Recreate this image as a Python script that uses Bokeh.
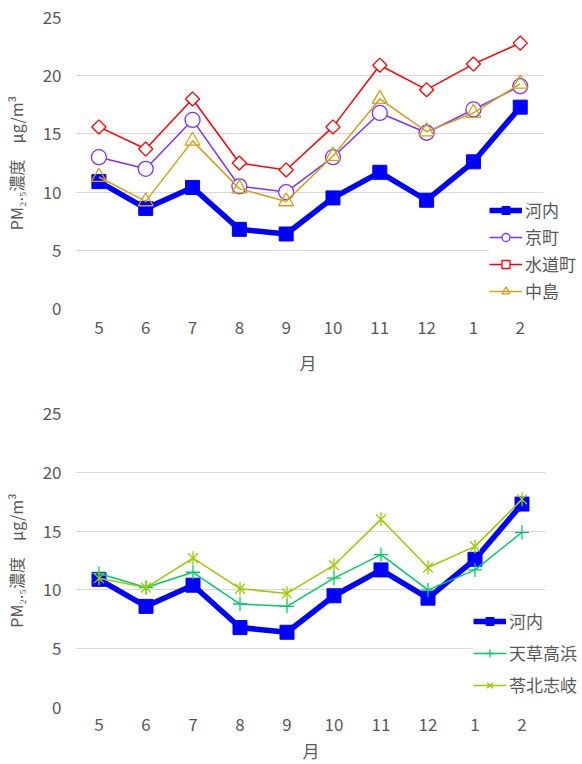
import math

from bokeh.embed import file_html
from bokeh.layouts import column
from bokeh.models import FixedTicker, Legend, LegendItem, Range1d, Title
from bokeh.plotting import figure
from bokeh.resources import INLINE

# Monthly mean PM2.5 concentration (µg/m³), May through February
months = ["5", "6", "7", "8", "9", "10", "11", "12", "1", "2"]
kawachi = [10.9, 8.6, 10.4, 6.8, 6.4, 9.5, 11.7, 9.3, 12.6, 17.3]
kyomachi = [13.0, 12.0, 16.2, 10.5, 10.0, 13.0, 16.8, 15.1, 17.1, 19.1]
suidocho = [15.6, 13.7, 18.0, 12.5, 11.9, 15.6, 20.9, 18.8, 21.0, 22.8]
nakashima = [11.3, 9.2, 14.4, 10.3, 9.2, 13.1, 18.0, 15.2, 16.8, 19.3]
amakusa_takahama = [11.4, 10.2, 11.5, 8.8, 8.6, 11.0, 13.0, 10.0, 11.7, 14.9]
reihoku_shiki = [11.0, 10.2, 12.7, 10.1, 9.7, 12.1, 16.0, 11.9, 13.7, 17.7]

y_ticks = [0, 5, 10, 15, 20, 25]

# month positions on a numeric axis (one band per month)
xs = list(range(len(months)))
x_lo, x_hi = -0.5, len(months) - 0.5

FONT = "Noto Sans CJK JP"
TEXT = "#595959"
GRID = "#d9d9d9"

BLUE = "#0000ff"
PURPLE = "#7f2fff"
RED = "#ff0000"
GOLD = "#d4a017"
GREEN = "#00cc66"
LIME = "#99cc00"

PAGE_W = 582
BAND_AREA = 470  # pixel width of the ten month bands


def base_figure(height, left, top, bottom, tick_standoff, month_offset,
                month_standoff):
    frame_w = PAGE_W - left
    # the frame runs to the page edge so the legend can sit beyond the bands
    x_end = x_lo + len(months) * frame_w / BAND_AREA
    p = figure(
        width=PAGE_W, height=height,
        x_range=Range1d(x_lo, x_end), y_range=Range1d(0, 25),
        output_backend="svg", toolbar_location=None,
        min_border_left=left, min_border_right=0,
        min_border_top=top, min_border_bottom=bottom,
    )
    p.outline_line_color = None
    p.xgrid.grid_line_color = None
    try:
        p.ygrid.cross_bounds = (x_lo, x_hi)
        p.ygrid.grid_line_color = GRID
        p.ygrid.grid_line_width = 1.2
    except Exception:
        p.ygrid.grid_line_color = None
        p.segment(x0=x_lo, x1=x_hi, y0=y_ticks, y1=y_ticks,
                  line_color=GRID, line_width=1.2, level="underlay")
    p.yaxis.ticker = FixedTicker(ticks=y_ticks)
    p.xaxis.ticker = FixedTicker(ticks=xs)
    p.xaxis.major_label_overrides = {i: m for i, m in zip(xs, months)}
    for ax in (p.xaxis[0], p.yaxis[0]):
        ax.axis_line_color = None
        ax.major_tick_line_color = None
        ax.minor_tick_line_color = None
        ax.major_tick_out = 0
        ax.major_tick_in = 0
        ax.major_label_text_font = FONT
        ax.major_label_text_font_size = "17px"
        ax.major_label_text_color = TEXT
        ax.axis_label_text_font = FONT
        ax.axis_label_text_font_style = "normal"
        ax.axis_label_text_color = TEXT
    p.yaxis.major_label_standoff = 14
    p.xaxis.major_label_standoff = tick_standoff
    p.yaxis.axis_label = "PM₂.₅濃度　μg/m³"
    p.yaxis.axis_label_text_font_size = "16px"
    p.yaxis.axis_label_standoff = 12
    # x-axis title, centred under the month bands
    p.add_layout(Title(text="月", align="left", offset=month_offset,
                       standoff=month_standoff, text_font=FONT,
                       text_font_size="17px", text_font_style="normal",
                       text_color=TEXT), "below")
    return p


def kawachi_series(p):
    ln = p.line(xs, kawachi, line_color=BLUE, line_width=5.5)
    mk = p.scatter(xs, kawachi, marker="square", size=14,
                   fill_color=BLUE, line_color=BLUE)
    return LegendItem(label="河内", renderers=[ln, mk])


def hollow_series(p, values, color, label, marker, size, angle=0.0,
                  fill="white"):
    ln = p.line(xs, values, line_color=color, line_width=1.5)
    mk = p.scatter(xs, values, marker=marker, size=size, angle=angle,
                   fill_color=fill, fill_alpha=1.0 if fill else 0.0,
                   line_color=color, line_width=1.3)
    return LegendItem(label=label, renderers=[ln, mk])


def add_legend(p, items, loc, spacing):
    legend = Legend(
        items=items, location=loc,
        label_text_font=FONT, label_text_font_size="17px",
        label_text_color=TEXT, label_standoff=3,
        glyph_width=33, glyph_height=20, label_height=20,
        spacing=spacing, padding=4,
        background_fill_color="white", background_fill_alpha=1.0,
        border_line_color=None,
    )
    p.add_layout(legend, "center")


# Upper panel: urban stations
top = base_figure(385, 73, 17, 77, tick_standoff=12, month_offset=224,
                  month_standoff=22)
items_top = [
    kawachi_series(top),
    hollow_series(top, kyomachi, PURPLE, "京町", "circle", 15),
    hollow_series(top, suidocho, RED, "水道町", "square", 10,
                  angle=math.pi / 4),
    hollow_series(top, nakashima, GOLD, "中島", "triangle", 15, fill=None),
]
add_legend(top, items_top, (414, 5), 2)

# Lower panel: coastal stations
bottom = base_figure(379, 75, 28, 57, tick_standoff=10, month_offset=227,
                     month_standoff=4)
items_bottom = [kawachi_series(bottom)]

ln_t = bottom.line(xs, amakusa_takahama, line_color=GREEN, line_width=1.5)
mk_t = bottom.scatter(xs, amakusa_takahama, marker="cross", size=14,
                      line_color=GREEN, line_width=1.3)
items_bottom.append(LegendItem(label="天草高浜", renderers=[ln_t, mk_t]))

ln_s = bottom.line(xs, reihoku_shiki, line_color=LIME, line_width=1.5)
mk_s = bottom.scatter(xs, reihoku_shiki, marker="x", size=14,
                      line_color=LIME, line_width=1.3)
mk_s2 = bottom.scatter(xs, reihoku_shiki, marker="dash", size=14,
                       angle=math.pi / 2, line_color=LIME, line_width=1.3)
items_bottom.append(LegendItem(label="苓北志岐",
                               renderers=[ln_s, mk_s, mk_s2]))

add_legend(bottom, items_bottom, (398, 10), 7)

page = column(top, bottom, spacing=0)
open("out.html", "w").write(file_html(page, INLINE))
